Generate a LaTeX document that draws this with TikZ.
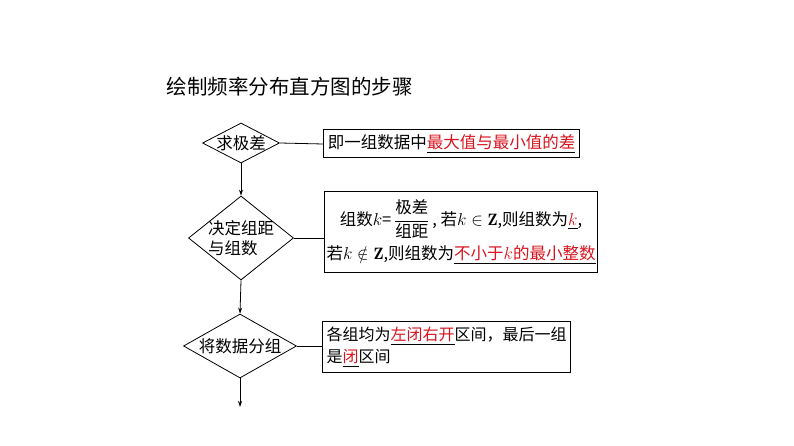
\documentclass[tikz,border=0pt]{standalone}
\usepackage{amsmath,amssymb}
\usepackage{fontspec}
\usetikzlibrary{shapes.geometric,arrows.meta}
\newfontfamily\cjk{Noto Sans CJK SC}
\definecolor{hl}{RGB}{215,20,30}
\newcommand{\hlu}[1]{\underline{\textcolor{hl}{#1}}}
\begin{document}
\begin{tikzpicture}[x=1pt,y=-1pt,
  font=\cjk\fontsize{16.5}{20}\selectfont,
  dia/.style={draw,line width=0.8pt,diamond,aspect=#1,inner sep=0pt},
  tbox/.style={draw,line width=1pt,anchor=west,align=left,inner sep=4pt},
  link/.style={line width=0.8pt},
  arr/.style={line width=0.8pt,-{Stealth[length=6pt,width=4pt]}}]
\useasboundingbox (0,0) rectangle (794,446);
\node[anchor=west, font=\cjk\fontsize{20.5}{24}\selectfont] (title) at (163,87) {绘制频率分布直方图的步骤};
\node[dia=2, minimum width=77pt, minimum height=40pt] (d1) at (241,143) {};
\node (t1) at (241,143) {求极差};
\node[dia=1.25, minimum width=105pt, minimum height=84pt] (d2) at (241,238) {};
\node[align=left] (t2) at (241,238) {决定组距\\与组数};
\node[dia=1.75, minimum width=113pt, minimum height=64pt] (d3) at (240,346) {};
\node (t3) at (240,346) {将数据分组};
\node[tbox, minimum height=28pt, minimum width=256pt] (b1) at (323,144) {即一组数据中\hlu{最大值与最小值的差}};
\node[tbox, minimum height=81pt, minimum width=261pt, align=center, inner sep=2pt] (b2) at (324,232) {组数$k$=\,$\dfrac{\text{\cjk 极差}}{\text{\cjk 组距}}$\,, 若$k\in\mathbf{Z}$,则组数为\hlu{$k$},\\[6pt]若$k\notin\mathbf{Z}$,则组数为\hlu{不小于$k$的最小整数}};
\node[tbox, minimum height=51pt, minimum width=248pt, text width=240pt, inner sep=4pt, font=\cjk\fontsize{16}{22}\selectfont] (b3) at (322,347) {各组均为\hlu{左闭右开}区间，最后一组\\是\hlu{闭}区间};
\coordinate (end) at (240,407);
\draw[link] (d1.east) -- (b1.west);
\draw[link] (d2.east) -- (b2.west |- d2.east);
\draw[link] (d3.east) -- (b3.west |- d3.east);
\draw[arr] (d1.south) -- (d2.north);
\draw[arr] (d2.south) -- (d3.north);
\draw[arr] (d3.south) -- (end);
\end{tikzpicture}
\end{document}
